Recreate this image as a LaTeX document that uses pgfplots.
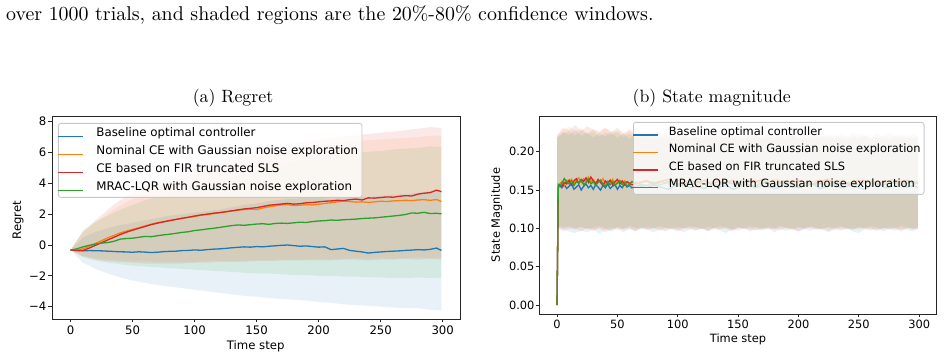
\documentclass[border=0pt]{standalone}
\usepackage{fontspec}
\usepackage{pgfplots}
\usepackage{pgfplotstable}
\pgfplotsset{compat=1.18}
\usepgfplotslibrary{fillbetween}
\newfontfamily\dejavu{DejaVu Sans}
\newfontfamily\cmten{lmroman10-regular}[Extension=.otf]

\definecolor{tabblue}{RGB}{31,119,180}
\definecolor{taborange}{RGB}{255,127,14}
\definecolor{tabred}{RGB}{214,39,40}
\definecolor{tabgreen}{RGB}{44,160,44}

% regret: mean curves
\pgfplotstableread{
t b o r g
0 -0.33 -0.33 -0.33 -0.33
5 -0.36 -0.33 -0.35 -0.25
10 -0.38 -0.25 -0.36 -0.12
15 -0.36 -0.08 -0.20 -0.02
20 -0.37 0.10 -0.02 0.06
25 -0.38 0.28 0.15 0.12
30 -0.40 0.46 0.33 0.16
35 -0.42 0.62 0.50 0.24
40 -0.44 0.78 0.68 0.38
45 -0.45 0.90 0.83 0.42
50 -0.47 1.02 0.96 0.44
55 -0.44 1.12 1.08 0.50
60 -0.46 1.24 1.20 0.56
65 -0.49 1.35 1.32 0.54
70 -0.47 1.44 1.42 0.60
75 -0.43 1.52 1.50 0.66
80 -0.41 1.60 1.58 0.70
85 -0.40 1.66 1.66 0.76
90 -0.36 1.72 1.74 0.82
95 -0.35 1.80 1.80 0.86
100 -0.32 1.86 1.88 0.94
105 -0.34 1.92 1.95 0.98
110 -0.30 1.98 2.00 1.04
115 -0.27 2.04 2.06 1.08
120 -0.25 2.10 2.10 1.14
125 -0.22 2.14 2.16 1.20
130 -0.18 2.20 2.22 1.26
135 -0.15 2.26 2.28 1.30
140 -0.12 2.30 2.34 1.28
145 -0.14 2.32 2.38 1.32
150 -0.10 2.30 2.42 1.36
155 -0.12 2.40 2.50 1.38
160 -0.08 2.48 2.58 1.34
165 -0.05 2.54 2.62 1.40
170 -0.02 2.60 2.66 1.42
175 0.00 2.62 2.70 1.40
180 -0.04 2.56 2.65 1.44
185 -0.08 2.58 2.68 1.48
190 -0.06 2.62 2.74 1.46
195 -0.10 2.60 2.76 1.52
200 -0.14 2.64 2.80 1.56
205 -0.12 2.70 2.84 1.58
210 -0.30 2.74 2.86 1.62
215 -0.26 2.80 2.90 1.60
220 -0.22 2.84 2.88 1.64
225 -0.35 2.82 2.94 1.66
230 -0.40 2.78 2.98 1.68
235 -0.45 2.80 2.92 1.72
240 -0.52 2.76 3.06 1.74
245 -0.48 2.80 3.04 1.76
250 -0.45 2.84 3.08 1.80
255 -0.42 2.82 3.12 1.84
260 -0.40 2.86 3.10 1.88
265 -0.38 2.88 3.16 1.92
270 -0.35 2.90 3.20 1.98
275 -0.33 2.88 3.18 2.08
280 -0.30 2.92 3.30 2.06
285 -0.32 2.94 3.36 2.12
290 -0.28 2.90 3.40 2.04
295 -0.20 2.95 3.56 2.06
299 -0.35 2.82 3.46 2.02
}\linesL

% regret: 20%-80% windows
\pgfplotstableread{
t bu bl ou ol ru rl gu gl
0 -0.33 -0.33 -0.33 -0.33 -0.33 -0.33 -0.33 -0.33
10 0.50 -1.15 0.80 -0.70 0.90 -0.75 0.90 -0.80
20 0.85 -1.55 1.45 -0.85 1.60 -0.95 1.50 -1.00
30 1.10 -1.85 2.05 -0.95 2.30 -1.05 1.90 -1.15
40 1.30 -2.10 2.55 -1.00 2.90 -1.10 2.30 -1.25
50 1.45 -2.30 3.00 -1.05 3.40 -1.15 2.60 -1.35
60 1.60 -2.45 3.40 -1.05 3.80 -1.20 2.90 -1.40
70 1.75 -2.60 3.75 -1.10 4.15 -1.20 3.15 -1.45
80 1.90 -2.70 4.05 -1.10 4.45 -1.20 3.40 -1.50
90 2.00 -2.80 4.35 -1.10 4.70 -1.20 3.60 -1.55
100 2.10 -2.90 4.60 -1.10 4.95 -1.15 3.80 -1.60
110 2.20 -3.00 4.85 -1.05 5.20 -1.15 4.00 -1.65
120 2.30 -3.10 5.05 -1.05 5.45 -1.10 4.20 -1.70
130 2.45 -3.20 5.25 -1.05 5.70 -1.10 4.40 -1.75
140 2.60 -3.30 5.45 -1.00 5.90 -1.10 4.60 -1.80
150 2.70 -3.35 5.65 -1.00 6.10 -1.05 4.80 -1.85
160 2.85 -3.45 5.85 -1.00 6.30 -1.05 5.00 -1.85
170 2.95 -3.50 6.05 -0.95 6.45 -1.00 5.20 -1.90
180 3.00 -3.55 6.25 -0.95 6.60 -1.00 5.40 -1.95
190 3.05 -3.60 6.40 -0.95 6.75 -1.00 5.55 -1.95
200 3.05 -3.70 6.50 -0.90 6.85 -1.00 5.65 -2.00
210 3.00 -3.75 6.60 -0.95 6.95 -1.00 5.75 -2.00
220 3.05 -3.85 6.65 -0.90 7.05 -0.95 5.85 -2.05
230 3.10 -3.90 6.75 -0.85 7.10 -0.95 5.95 -2.05
240 3.10 -3.95 6.80 -0.90 7.20 -1.00 6.05 -2.10
250 3.20 -4.00 6.85 -0.85 7.30 -0.95 6.10 -2.10
260 3.25 -4.05 6.90 -0.90 7.35 -0.95 6.20 -2.15
270 3.30 -4.10 6.95 -0.85 7.45 -0.90 6.25 -2.15
280 3.40 -4.10 7.00 -0.80 7.55 -0.95 6.30 -2.10
290 3.50 -4.20 7.10 -0.85 7.65 -0.90 6.40 -2.15
299 3.45 -4.25 7.10 -0.80 7.60 -0.95 6.35 -2.15
}\bandsL

% state magnitude: mean curves
\pgfplotstableread{
t b o r g
0 0.000 0.000 0.000 0.000
1 0.154 0.156 0.153 0.157
2 0.156 0.158 0.157 0.155
4 0.153 0.161 0.155 0.159
6 0.157 0.157 0.160 0.165
8 0.152 0.163 0.158 0.160
10 0.155 0.160 0.163 0.158
12 0.158 0.164 0.157 0.162
14 0.151 0.159 0.162 0.156
16 0.154 0.162 0.165 0.161
18 0.157 0.166 0.159 0.159
20 0.150 0.160 0.164 0.163
22 0.155 0.165 0.161 0.157
24 0.158 0.162 0.166 0.160
26 0.153 0.167 0.160 0.164
28 0.156 0.161 0.167 0.158
30 0.151 0.164 0.162 0.161
32 0.157 0.159 0.158 0.156
34 0.154 0.163 0.164 0.160
36 0.150 0.160 0.160 0.163
38 0.156 0.165 0.156 0.158
40 0.153 0.158 0.162 0.155
42 0.158 0.162 0.159 0.160
44 0.152 0.160 0.163 0.157
46 0.155 0.164 0.157 0.161
48 0.157 0.158 0.161 0.156
50 0.151 0.161 0.164 0.159
52 0.156 0.163 0.158 0.162
54 0.153 0.159 0.162 0.157
56 0.158 0.162 0.157 0.160
58 0.154 0.160 0.161 0.155
60 0.156 0.158 0.159 0.158
62 0.153 0.161 0.157 0.161
68 0.156 0.160 0.159 0.158
74 0.153 0.163 0.162 0.156
80 0.157 0.159 0.158 0.160
86 0.154 0.162 0.161 0.157
92 0.151 0.158 0.164 0.161
98 0.156 0.161 0.159 0.159
104 0.158 0.164 0.157 0.156
110 0.153 0.160 0.162 0.160
116 0.155 0.157 0.160 0.162
122 0.152 0.162 0.163 0.157
128 0.157 0.159 0.158 0.159
134 0.154 0.163 0.161 0.156
140 0.156 0.160 0.159 0.161
146 0.151 0.158 0.163 0.158
152 0.155 0.162 0.157 0.160
158 0.158 0.160 0.161 0.157
164 0.153 0.163 0.160 0.155
170 0.156 0.159 0.164 0.160
176 0.154 0.161 0.158 0.159
182 0.152 0.164 0.160 0.157
188 0.157 0.158 0.162 0.161
194 0.155 0.162 0.159 0.158
200 0.153 0.160 0.163 0.156
206 0.156 0.157 0.160 0.160
212 0.158 0.161 0.158 0.157
218 0.152 0.163 0.161 0.159
224 0.155 0.159 0.164 0.156
230 0.157 0.162 0.159 0.161
236 0.153 0.160 0.162 0.158
242 0.156 0.158 0.157 0.160
248 0.154 0.163 0.161 0.157
254 0.151 0.161 0.163 0.159
260 0.156 0.159 0.160 0.162
266 0.158 0.162 0.158 0.156
272 0.153 0.160 0.162 0.158
278 0.155 0.164 0.159 0.160
284 0.157 0.158 0.161 0.157
290 0.154 0.161 0.163 0.159
296 0.156 0.160 0.158 0.161
299 0.153 0.162 0.160 0.158
}\linesR

% state magnitude: 20%-80% windows
\pgfplotstableread{
t bu bl ou ol ru rl gu gl
0 0.219 0.101 0.221 0.103 0.222 0.100 0.218 0.104
5 0.226 0.098 0.229 0.100 0.231 0.097 0.224 0.101
10 0.222 0.096 0.233 0.101 0.228 0.099 0.227 0.103
15 0.229 0.094 0.226 0.098 0.235 0.100 0.221 0.100
20 0.221 0.097 0.231 0.102 0.227 0.096 0.229 0.102
25 0.225 0.095 0.224 0.099 0.233 0.101 0.223 0.099
30 0.219 0.099 0.230 0.096 0.229 0.098 0.227 0.101
35 0.224 0.093 0.227 0.101 0.225 0.100 0.220 0.103
40 0.220 0.098 0.232 0.099 0.231 0.095 0.225 0.100
45 0.226 0.096 0.225 0.102 0.226 0.099 0.222 0.098
50 0.218 0.100 0.228 0.097 0.231 0.101 0.226 0.102
55 0.224 0.095 0.223 0.100 0.224 0.098 0.219 0.100
60 0.217 0.099 0.227 0.101 0.229 0.100 0.224 0.103
65 0.222 0.097 0.221 0.098 0.225 0.096 0.218 0.101
70 0.216 0.100 0.225 0.102 0.222 0.101 0.223 0.099
75 0.221 0.098 0.219 0.098 0.226 0.099 0.217 0.102
80 0.215 0.095 0.224 0.101 0.221 0.100 0.221 0.100
85 0.220 0.099 0.218 0.100 0.224 0.097 0.216 0.103
90 0.214 0.096 0.223 0.097 0.219 0.101 0.222 0.101
95 0.219 0.100 0.217 0.102 0.225 0.099 0.218 0.099
100 0.216 0.098 0.222 0.099 0.220 0.096 0.215 0.102
105 0.221 0.095 0.218 0.101 0.223 0.100 0.220 0.100
110 0.215 0.099 0.224 0.098 0.218 0.101 0.217 0.103
115 0.220 0.097 0.217 0.102 0.224 0.098 0.221 0.101
120 0.214 0.100 0.222 0.100 0.219 0.100 0.216 0.099
125 0.219 0.096 0.219 0.097 0.225 0.097 0.222 0.102
130 0.216 0.099 0.224 0.101 0.220 0.101 0.218 0.100
135 0.221 0.097 0.218 0.099 0.223 0.099 0.215 0.103
140 0.215 0.094 0.223 0.102 0.218 0.100 0.220 0.101
145 0.220 0.099 0.217 0.098 0.224 0.096 0.217 0.099
150 0.214 0.097 0.221 0.100 0.219 0.101 0.221 0.102
155 0.219 0.100 0.218 0.101 0.225 0.099 0.216 0.100
160 0.216 0.096 0.224 0.097 0.220 0.100 0.222 0.103
165 0.221 0.099 0.219 0.102 0.223 0.097 0.218 0.101
170 0.215 0.097 0.223 0.099 0.218 0.101 0.215 0.099
175 0.220 0.100 0.217 0.101 0.224 0.099 0.220 0.102
180 0.214 0.095 0.222 0.098 0.219 0.100 0.217 0.100
185 0.219 0.099 0.218 0.102 0.225 0.098 0.221 0.103
190 0.216 0.097 0.224 0.100 0.220 0.101 0.216 0.101
195 0.221 0.100 0.219 0.097 0.223 0.099 0.222 0.099
200 0.215 0.096 0.223 0.101 0.218 0.096 0.218 0.102
205 0.220 0.099 0.217 0.099 0.224 0.100 0.215 0.100
210 0.214 0.097 0.222 0.102 0.219 0.101 0.220 0.103
215 0.219 0.100 0.218 0.098 0.225 0.099 0.217 0.101
220 0.216 0.098 0.224 0.100 0.220 0.100 0.221 0.099
225 0.221 0.095 0.219 0.101 0.223 0.097 0.216 0.102
230 0.215 0.099 0.223 0.097 0.218 0.101 0.222 0.100
235 0.220 0.097 0.217 0.102 0.224 0.099 0.218 0.103
240 0.214 0.100 0.222 0.099 0.219 0.100 0.215 0.101
245 0.219 0.096 0.218 0.101 0.225 0.098 0.220 0.099
250 0.216 0.094 0.224 0.098 0.220 0.101 0.217 0.102
255 0.221 0.099 0.219 0.102 0.223 0.099 0.221 0.100
260 0.215 0.097 0.223 0.100 0.218 0.100 0.216 0.103
265 0.220 0.100 0.217 0.097 0.224 0.097 0.222 0.101
270 0.214 0.096 0.222 0.101 0.219 0.101 0.218 0.099
275 0.219 0.099 0.218 0.099 0.225 0.099 0.215 0.102
280 0.216 0.097 0.224 0.102 0.220 0.100 0.220 0.100
285 0.221 0.100 0.219 0.098 0.223 0.096 0.217 0.103
290 0.215 0.098 0.223 0.100 0.218 0.101 0.221 0.101
295 0.220 0.096 0.217 0.101 0.224 0.099 0.216 0.099
299 0.217 0.099 0.221 0.099 0.220 0.100 0.219 0.102
}\bandsR

\pgfplotsset{
  mpl/.style={
    scale only axis,
    set layers,
    axis line style={black!85, line width=0.8pt},
    tick style={black!85, line width=0.8pt},
    tick align=outside,
    major tick length=3.5pt,
    tick pos=left,
    xmin=-14.95, xmax=313.95,
    xtick={0,50,100,150,200,250,300},
    xticklabels={0,50,100,150,200,250,300},
    legend cell align=left,
  },
  mplfont/.style={
    tick label style={font=\dejavu\fontsize{#1}{#1}\selectfont, inner sep=0pt},
    label style={font=\dejavu\fontsize{#1}{#1}\selectfont},
  },
  mpllegend/.style 2 args={
    legend style={at={#1}, anchor=north west,
      draw=black!22, line width=0.8pt, rounded corners=2.5pt,
      fill=white, fill opacity=0.8, text opacity=1,
      inner xsep=0pt, inner ysep=1pt, row sep=0pt, column sep=#2},
  },
  band/.style={draw=none, fill=#1, fill opacity=0.1, forget plot, on layer=pre main},
  bound/.style={draw=none, forget plot},
  meanline/.style={color=#1, draw=#1, line width=1.3pt,
    legend image code/.code={\node[inner sep=0pt, anchor=west, text opacity=1]
      at (0pt,0pt) {\textcolor{#1}{\rule[-0.75pt]{25pt}{1.5pt}}};}},
}

\begin{document}
\begin{tikzpicture}
% page frame
\path (0pt,0pt) rectangle (945pt,361pt);

% (a) regret
\begin{axis}[mpl, mplfont=11.7,
  at={(52pt,42pt)}, anchor=south west, width=408pt, height=203pt,
  ymin=-4.8, ymax=8.37,
  ytick={-4,-2,0,2,4,6,8},
  yticklabels={−4,−2,0,2,4,6,8},
  xticklabel style={anchor=center, yshift=-7.4pt},
  yticklabel style={anchor=east, xshift=-2pt},
  xlabel={Time step},
  xlabel style={at={(axis description cs:0.4993,-0.1365)}, anchor=center},
  ylabel={Regret},
  ylabel style={at={(axis description cs:-0.0833,0.4877)}, anchor=center},
  mpllegend={(0.0147,0.9655)}{9pt},
  legend style={font=\dejavu\fontsize{11.85}{13}\selectfont,
    nodes={inner xsep=4pt, inner ysep=3.5pt, text height=8.5pt, text depth=2.5pt}},
]
\addplot[meanline=tabblue] table[x=t, y=b] {\linesL};
\addlegendentry{Baseline optimal controller}
\addplot[meanline=taborange] table[x=t, y=o] {\linesL};
\addlegendentry{Nominal CE with Gaussian noise exploration}
\addplot[meanline=tabred] table[x=t, y=r] {\linesL};
\addlegendentry{CE based on FIR truncated SLS}
\addplot[meanline=tabgreen] table[x=t, y=g] {\linesL};
\addlegendentry{MRAC-LQR with Gaussian noise exploration}

\addplot[bound, name path=bu] table[x=t, y=bu] {\bandsL};
\addplot[bound, name path=bl] table[x=t, y=bl] {\bandsL};
\addplot[bound, name path=ou] table[x=t, y=ou] {\bandsL};
\addplot[bound, name path=ol] table[x=t, y=ol] {\bandsL};
\addplot[bound, name path=ru] table[x=t, y=ru] {\bandsL};
\addplot[bound, name path=rl] table[x=t, y=rl] {\bandsL};
\addplot[bound, name path=gu] table[x=t, y=gu] {\bandsL};
\addplot[bound, name path=gl] table[x=t, y=gl] {\bandsL};
\addplot[band=tabblue] fill between[of=bu and bl];
\addplot[band=taborange] fill between[of=ou and ol];
\addplot[band=tabred] fill between[of=ru and rl];
\addplot[band=tabgreen] fill between[of=gu and gl];
\end{axis}

% (b) state magnitude
\begin{axis}[mpl, mplfont=11.4,
  at={(539pt,47pt)}, anchor=south west, width=397pt, height=198pt,
  ymin=-0.0117, ymax=0.2467,
  ytick={0,0.05,0.10,0.15,0.20},
  yticklabels={0.00,0.05,0.10,0.15,0.20},
  xticklabel style={anchor=center, yshift=-6.4pt},
  yticklabel style={anchor=east, xshift=-0.8pt},
  xlabel={Time step},
  xlabel style={at={(axis description cs:0.5013,-0.1263)}, anchor=center},
  ylabel={State Magnitude},
  ylabel style={at={(axis description cs:-0.1066,0.5)}, anchor=center},
  mpllegend={(0.2368,0.9697)}{7pt},
  legend style={font=\dejavu\fontsize{11.4}{13}\selectfont,
    nodes={inner xsep=3.5pt, inner ysep=3.4pt, text height=8.3pt, text depth=2.4pt}},
]
\addplot[meanline=tabblue] table[x=t, y=b] {\linesR};
\addlegendentry{Baseline optimal controller}
\addplot[meanline=taborange] table[x=t, y=o] {\linesR};
\addlegendentry{Nominal CE with Gaussian noise exploration}
\addplot[meanline=tabred] table[x=t, y=r] {\linesR};
\addlegendentry{CE based on FIR truncated SLS}
\addplot[meanline=tabgreen] table[x=t, y=g] {\linesR};
\addlegendentry{MRAC-LQR with Gaussian noise exploration}

\addplot[bound, name path=bu] table[x=t, y=bu] {\bandsR};
\addplot[bound, name path=bl] table[x=t, y=bl] {\bandsR};
\addplot[bound, name path=ou] table[x=t, y=ou] {\bandsR};
\addplot[bound, name path=ol] table[x=t, y=ol] {\bandsR};
\addplot[bound, name path=ru] table[x=t, y=ru] {\bandsR};
\addplot[bound, name path=rl] table[x=t, y=rl] {\bandsR};
\addplot[bound, name path=gu] table[x=t, y=gu] {\bandsR};
\addplot[bound, name path=gl] table[x=t, y=gl] {\bandsR};
\addplot[band=tabblue] fill between[of=bu and bl];
\addplot[band=taborange] fill between[of=ou and ol];
\addplot[band=tabred] fill between[of=ru and rl];
\addplot[band=tabgreen] fill between[of=gu and gl];
\end{axis}

% caption line and sub-captions
\node[anchor=base west, inner sep=0pt, font=\cmten\fontsize{19.9}{22}\selectfont]
  at (6pt,340pt) {over 1000 trials, and shaded regions are the 20\%-80\% confidence windows.};
\node[anchor=base, inner sep=0pt, font=\cmten\fontsize{17.8}{20}\selectfont]
  at (233pt,258pt) {(a) Regret};
\node[anchor=base, inner sep=0pt, font=\cmten\fontsize{17.8}{20}\selectfont]
  at (711.7pt,258pt) {(b) State magnitude};
\end{tikzpicture}
\end{document}
